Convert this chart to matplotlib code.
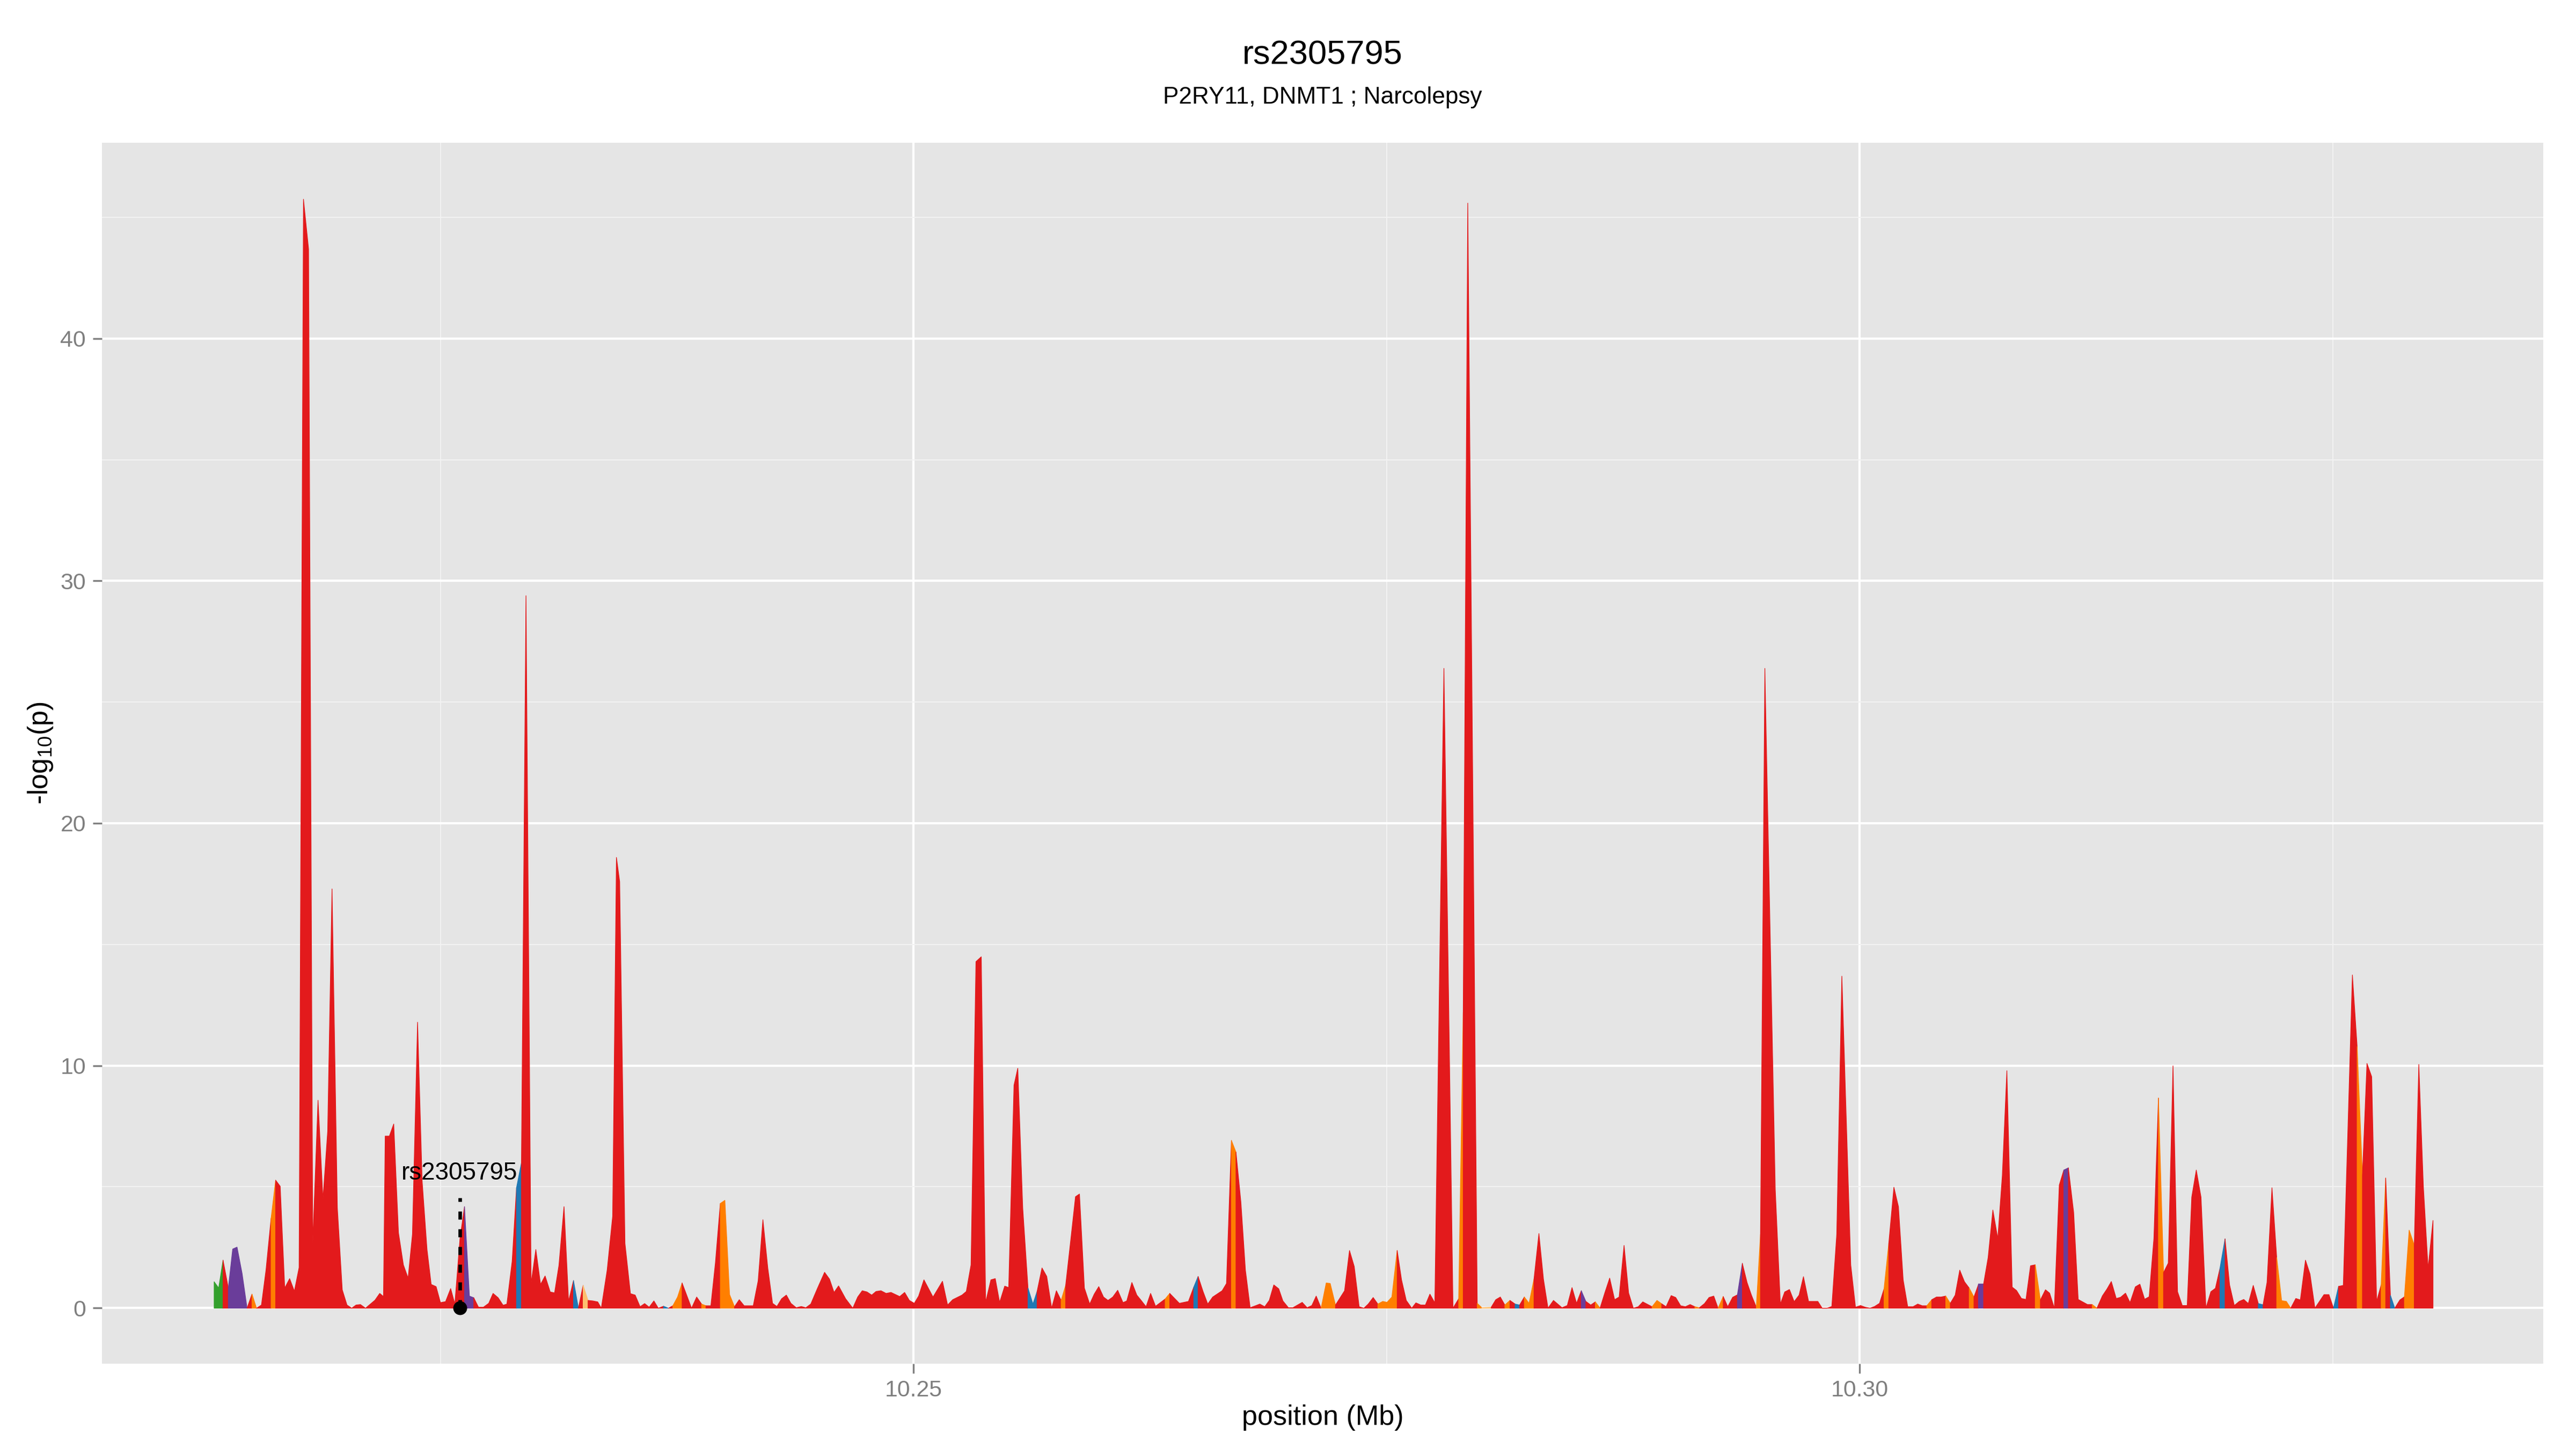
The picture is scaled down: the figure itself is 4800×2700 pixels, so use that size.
import matplotlib
matplotlib.use('Agg')
import matplotlib.pyplot as plt
from matplotlib.ticker import FixedLocator, FormatStrFormatter

plt.rcParams['font.family'] = ['Liberation Sans', 'DejaVu Sans']
plt.rcParams['mathtext.fontset'] = 'custom'
plt.rcParams['mathtext.rm'] = 'Liberation Sans'
plt.rcParams['mathtext.it'] = 'Liberation Sans:italic'

# SNP positions (Mb)
position = [
    10.21303, 10.21327, 10.21350, 10.21378, 10.21401, 10.21424, 10.21451, 10.21477, 10.21503, 10.21527,
    10.21553, 10.21577, 10.21604, 10.21628, 10.21652, 10.21676, 10.21702, 10.21727, 10.21752, 10.21775,
    10.21802, 10.21824, 10.21852, 10.21878, 10.21903, 10.21926, 10.21954, 10.21980, 10.22005, 10.22030,
    10.22053, 10.22076, 10.22103, 10.22153, 10.22178, 10.22198, 10.22207, 10.22229, 10.22252, 10.22277,
    10.22303, 10.22328, 10.22351, 10.22378, 10.22402, 10.22428, 10.22450, 10.22476, 10.22499, 10.22526,
    10.22553, 10.22575, 10.22602, 10.22626, 10.22652, 10.22675, 10.22700, 10.22726, 10.22754, 10.22777,
    10.22804, 10.22830, 10.22850, 10.22878, 10.22901, 10.22927, 10.22951, 10.22978, 10.23003, 10.23028,
    10.23052, 10.23079, 10.23102, 10.23125, 10.23152, 10.23176, 10.23202, 10.23228, 10.23253, 10.23279,
    10.23304, 10.23330, 10.23349, 10.23380, 10.23409, 10.23429, 10.23446, 10.23474, 10.23503, 10.23528,
    10.23554, 10.23578, 10.23602, 10.23627, 10.23650, 10.23678, 10.23704, 10.23727, 10.23752, 10.23776,
    10.23800, 10.23826, 10.23853, 10.23879, 10.23902, 10.23928, 10.23952, 10.23978, 10.24002, 10.24027,
    10.24053, 10.24078, 10.24104, 10.24152, 10.24178, 10.24203, 10.24229, 10.24254, 10.24277, 10.24302,
    10.24327, 10.24351, 10.24379, 10.24406, 10.24430, 10.24456, 10.24492, 10.24529, 10.24555, 10.24579,
    10.24603, 10.24640, 10.24678, 10.24704, 10.24728, 10.24753, 10.24778, 10.24801, 10.24827, 10.24854,
    10.24880, 10.24926, 10.24952, 10.24977, 10.25003, 10.25026, 10.25054, 10.25102, 10.25152, 10.25179,
    10.25206, 10.25255, 10.25278, 10.25303, 10.25329, 10.25357, 10.25380, 10.25408, 10.25431, 10.25454,
    10.25481, 10.25502, 10.25530, 10.25550, 10.25576, 10.25604, 10.25630, 10.25652, 10.25678, 10.25703,
    10.25729, 10.25754, 10.25779, 10.25803, 10.25828, 10.25855, 10.25876, 10.25902, 10.25930, 10.25954,
    10.25978, 10.26003, 10.26027, 10.26052, 10.26078, 10.26106, 10.26126, 10.26153, 10.26179, 10.26202,
    10.26228, 10.26252, 10.26278, 10.26329, 10.26353, 10.26404, 10.26452, 10.26480, 10.26503, 10.26529,
    10.26554, 10.26580, 10.26630, 10.26653, 10.26679, 10.26703, 10.26729, 10.26753, 10.26778, 10.26806,
    10.26829, 10.26855, 10.26879, 10.26903, 10.26929, 10.26951, 10.26980, 10.27004, 10.27053, 10.27079,
    10.27104, 10.27127, 10.27153, 10.27180, 10.27201, 10.27229, 10.27277, 10.27303, 10.27328, 10.27354,
    10.27379, 10.27402, 10.27428, 10.27453, 10.27479, 10.27501, 10.27527, 10.27555, 10.27578, 10.27603,
    10.27632, 10.27654, 10.27680, 10.27704, 10.27728, 10.27754, 10.27802, 10.27850, 10.27880,
    10.27904, 10.27928, 10.27978, 10.28002, 10.28052, 10.28076, 10.28100, 10.28124, 10.28151, 10.28178,
    10.28202, 10.28227, 10.28252, 10.28278, 10.28304, 10.28328, 10.28352, 10.28381, 10.28426, 10.28454,
    10.28479, 10.28503, 10.28528, 10.28552, 10.28578, 10.28602, 10.28627, 10.28653, 10.28678, 10.28704,
    10.28728, 10.28754, 10.28778, 10.28803, 10.28829, 10.28853, 10.28902, 10.28928, 10.28953, 10.28976,
    10.29003, 10.29027, 10.29053, 10.29078, 10.29103, 10.29128, 10.29152, 10.29179, 10.29203, 10.29228,
    10.29251, 10.29278, 10.29302, 10.29328, 10.29353, 10.29379, 10.29404, 10.29427, 10.29453, 10.29475,
    10.29498, 10.29553, 10.29580, 10.29603, 10.29628, 10.29653, 10.29679, 10.29702, 10.29729, 10.29778,
    10.29801, 10.29827, 10.29852, 10.29878, 10.29905, 10.29952, 10.29977, 10.30004, 10.30028, 10.30054,
    10.30078, 10.30104, 10.30128, 10.30153, 10.30180, 10.30204, 10.30229, 10.30253, 10.30281, 10.30306,
    10.30330, 10.30354, 10.30380, 10.30405, 10.30429, 10.30454, 10.30478, 10.30504, 10.30528, 10.30553,
    10.30578, 10.30603, 10.30628, 10.30654, 10.30678, 10.30703, 10.30729, 10.30753, 10.30777, 10.30805,
    10.30828, 10.30854, 10.30878, 10.30902, 10.30927, 10.30954, 10.30981, 10.31003, 10.31028, 10.31054,
    10.31078, 10.31102, 10.31130, 10.31154, 10.31203, 10.31228, 10.31253, 10.31282, 10.31306, 10.31329,
    10.31355, 10.31378, 10.31404, 10.31428, 10.31456, 10.31480, 10.31505, 10.31529, 10.31554, 10.31578,
    10.31605, 10.31630, 10.31655, 10.31679, 10.31704, 10.31730, 10.31754, 10.31778, 10.31803, 10.31829,
    10.31855, 10.31879, 10.31903, 10.31930, 10.31954, 10.31979, 10.32005, 10.32029, 10.32053, 10.32079,
    10.32106, 10.32131, 10.32152, 10.32178, 10.32203, 10.32229, 10.32254, 10.32277, 10.32304, 10.32328,
    10.32355, 10.32379, 10.32405, 10.32429, 10.32453, 10.32479, 10.32503, 10.32530, 10.32555, 10.32579,
    10.32603, 10.32628, 10.32656, 10.32680, 10.32705, 10.32731, 10.32755, 10.32779, 10.32804, 10.32827,
    10.32854, 10.32878, 10.32903, 10.32930, 10.32954, 10.32978, 10.33003, 10.33029,
]

# -log10(p) at each position
logp = [
    1.09, 0.83, 1.98, 0.83, 2.44, 2.52, 1.42, 0.00, 0.58, 0.00,
    0.13, 1.57, 3.71, 5.28, 5.03, 0.83, 1.22, 0.70, 1.68, 45.76,
    43.70, 2.64, 8.58, 4.49, 7.30, 17.30, 4.15, 0.76, 0.13, 0.00,
    0.13, 0.15, 0.00, 0.33, 0.61, 0.48, 7.10, 7.10, 7.60, 3.12,
    1.79, 1.24, 3.05, 11.80, 5.26, 2.42, 0.98, 0.89, 0.23, 0.27,
    0.81, 0.17, 2.86, 4.19, 0.50, 0.43, 0.04, 0.04, 0.20, 0.61,
    0.43, 0.12, 0.17, 1.94, 4.97, 6.00, 29.40, 1.02, 2.42, 0.98,
    1.33, 0.67, 0.63, 1.76, 4.19, 0.28, 1.14, 0.00, 0.94, 0.32,
    0.30, 0.26, 0.00, 1.57, 3.79, 18.60, 17.60, 2.68, 0.60, 0.54,
    0.06, 0.19, 0.04, 0.30, 0.00, 0.08, 0.00, 0.10, 0.46, 1.04,
    0.54, 0.00, 0.46, 0.17, 0.10, 0.10, 1.87, 4.32, 4.45, 0.56,
    0.06, 0.35, 0.10, 0.10, 1.13, 3.65, 1.65, 0.20, 0.07, 0.39,
    0.54, 0.20, 0.02, 0.07, 0.02, 0.17, 0.83, 1.48, 1.20, 0.65,
    0.92, 0.39, 0.00, 0.46, 0.72, 0.67, 0.54, 0.69, 0.72, 0.61,
    0.65, 0.48, 0.65, 0.32, 0.20, 0.50, 1.17, 0.46, 1.11, 0.13,
    0.35, 0.54, 0.69, 1.79, 14.30, 14.50, 0.24, 1.17, 1.22, 0.24,
    0.91, 0.85, 9.20, 9.90, 4.15, 0.83, 0.17, 0.69, 1.66, 1.31,
    0.00, 0.72, 0.32, 0.94, 2.68, 4.60, 4.71, 0.83, 0.17, 0.58,
    0.89, 0.46, 0.32, 0.46, 0.74, 0.23, 0.30, 1.06, 0.54, 0.32,
    0.06, 0.61, 0.08, 0.38, 0.61, 0.20, 0.28, 0.87, 1.31, 0.69,
    0.17, 0.46, 0.72, 1.02, 6.92, 6.44, 4.38, 1.57, 0.02, 0.10,
    0.17, 0.06, 0.32, 0.96, 0.80, 0.30, 0.02, 0.02, 0.24, 0.02,
    0.11, 0.50, 0.00, 1.04, 1.02, 0.13, 0.72, 2.38, 1.72, 0.06,
    0.00, 0.17, 0.44, 0.17, 0.28, 0.24, 0.46, 2.38, 1.17, 0.32,
    0.00, 0.22, 0.13, 0.13, 0.58, 0.22, 26.40, 0.00, 0.39,
    12.20, 45.60, 0.20, 0.02, 0.04, 0.35, 0.46, 0.13, 0.32, 0.17,
    0.13, 0.46, 0.20, 1.20, 3.08, 1.20, 0.00, 0.32, 0.02, 0.11,
    0.85, 0.20, 0.72, 0.28, 0.13, 0.26, 0.00, 0.65, 1.24, 0.35,
    0.46, 2.59, 0.63, 0.00, 0.06, 0.26, 0.06, 0.32, 0.18, 0.06,
    0.52, 0.44, 0.10, 0.06, 0.15, 0.06, 0.02, 0.19, 0.44, 0.50,
    0.00, 0.48, 0.06, 0.45, 0.55, 1.85, 1.06, 0.54, 0.04, 3.05,
    26.40, 4.90, 0.17, 0.67, 0.77, 0.27, 0.54, 1.30, 0.28, 0.28,
    0.00, 0.00, 0.07, 3.05, 13.70, 1.79, 0.04, 0.11, 0.04, 0.00,
    0.07, 0.20, 0.80, 2.68, 4.99, 4.19, 1.17, 0.06, 0.06, 0.17,
    0.10, 0.10, 0.35, 0.46, 0.46, 0.50, 0.20, 0.54, 1.57, 1.09,
    0.83, 0.46, 1.00, 1.00, 2.09, 4.05, 2.87, 5.47, 9.80, 0.87,
    0.73, 0.40, 0.36, 1.75, 1.79, 0.34, 0.76, 0.62, 0.00, 5.08,
    5.70, 5.79, 3.95, 0.36, 0.15, 0.15, 0.00, 0.51, 0.79, 1.10,
    0.40, 0.45, 0.62, 0.23, 0.88, 0.99, 0.37, 0.47, 2.88, 8.67,
    1.47, 1.86, 10.00, 0.68, 0.11, 0.11, 4.58, 5.70, 4.58, 0.00,
    0.68, 0.82, 1.64, 2.86, 0.96, 0.11, 0.28, 0.36, 0.19, 0.94,
    0.19, 0.14, 1.07, 4.97, 2.09, 0.31, 0.28, 0.00, 0.40, 0.34,
    1.98, 1.41, 0.00, 0.28, 0.56, 0.56, 0.00, 0.90, 0.94, 7.29,
    13.75, 10.80, 5.48, 10.10, 9.55, 0.28, 0.96, 5.37, 0.53, 0.00,
    0.34, 0.47, 3.22, 2.60, 10.06, 5.03, 1.64, 3.62,
]

# LD class of the stretch that starts at each SNP
ld_class = list(
    'ggrppppror' 'rrorrrrrrr' 'rrrrrrrrrr' 'rrrrrrrrrr' 'rrrrrrrrrr'
    'rrrpprrrrr' 'rrrrbrrrrr' 'rrrrrrbryr' 'rrrrrrrrrr' 'rrrrrbroor'
    'rrrorrrooo' 'rrrrrrrrrr' 'rrrrrrrrrr' 'rrrrrrrrrr' 'rrrrrrrrrr'
    'rrrrrrrrrr' 'rrrrrbbrrr' 'rrorrrrrrr' 'rrrrrrrrrr' 'rrrorrrbrr'
    'rrrrorrrrr' 'rrrrrrrrrr' 'rrooorrrrr' 'rrroooorrr' 'rrrrrrrro'
    'rroyrrrorb' 'roorrrrrrr' 'rrprrorrrr' 'rrrrrroorr' 'rrrrrorrrr'
    'orrrprrror' 'rrrrrrrrrr' 'rrrrrrrrrr' 'rrorrrrrrr' 'rorrrorrrr'
    'orprrrrrrr' 'rrrrorrrrr' 'prrrrorrrr' 'rrrrrrrrro' 'rrrrrrrrrr'
    'rrbrrrrrrr' 'brrrooorrr' 'rrrrrrbrrr' 'rorrrrorbr' 'roorrrrr'
)

ld_colors = {
    'r': '#E31A1C', 'o': '#FF7F00', 'y': '#FDBF6F',
    'p': '#6A3D9A', 'b': '#1F78B4', 'g': '#33A02C',
}

snp_name = 'rs2305795'
snp_pos = 10.22602

fig = plt.figure(figsize=(16, 9), dpi=300)
ax = fig.add_axes([0.0396, 0.0589, 0.9477, 0.8426])
ax.set_facecolor('#E5E5E5')
for s in ax.spines.values():
    s.set_visible(False)

# fill each run of SNPs sharing an LD class
start = 0
n = len(position)
for i in range(1, n):
    if ld_class[i] != ld_class[start] or i == n - 1:
        c = ld_colors[ld_class[start]]
        ax.fill_between(position[start:i + 1], logp[start:i + 1], 0,
                        facecolor=c, edgecolor=c, lw=0.3, zorder=2)
        start = i

# highlighted SNP
ax.plot([snp_pos, snp_pos], [0, 4.55], color='black', lw=1.6,
        ls=(0, (2.25, 2.7)), solid_capstyle='butt', zorder=4)
ax.plot(snp_pos, 0, 'o', color='black', ms=5.2, zorder=5)
ax.text(snp_pos, 5.3, snp_name, ha='center', va='baseline', fontsize=11, zorder=5)

ax.set_xlim(10.207118, 10.336132)
ax.set_ylim(-2.30, 48.08)
ax.xaxis.set_major_locator(FixedLocator([10.25, 10.30]))
ax.xaxis.set_minor_locator(FixedLocator([10.225, 10.275, 10.325]))
ax.xaxis.set_major_formatter(FormatStrFormatter('%.2f'))
ax.yaxis.set_major_locator(FixedLocator([0, 10, 20, 30, 40]))
ax.yaxis.set_minor_locator(FixedLocator([5, 15, 25, 35, 45]))
ax.grid(which='major', color='white', lw=1.0)
ax.grid(which='minor', color='#F2F2F2', lw=0.5)
ax.set_axisbelow(True)
ax.tick_params(which='major', length=4.2, width=0.8, color='#7F7F7F',
               labelcolor='#7F7F7F', labelsize=10.3, pad=3)
ax.tick_params(which='minor', length=0)

fig.text(0.5134, 0.9556, snp_name, ha='center', va='baseline', fontsize=15.2)
fig.text(0.5134, 0.9285, 'P2RY11, DNMT1 ; Narcolepsy', ha='center', va='baseline', fontsize=10.6)
fig.text(0.5134, 0.0167, 'position (Mb)', ha='center', va='baseline', fontsize=12.5)
fig.text(0.0158, 0.4802, r'-log$_{10}$(p)', ha='center', va='center',
         rotation=90, fontsize=12.5)

fig.savefig('out.png', dpi=300)
